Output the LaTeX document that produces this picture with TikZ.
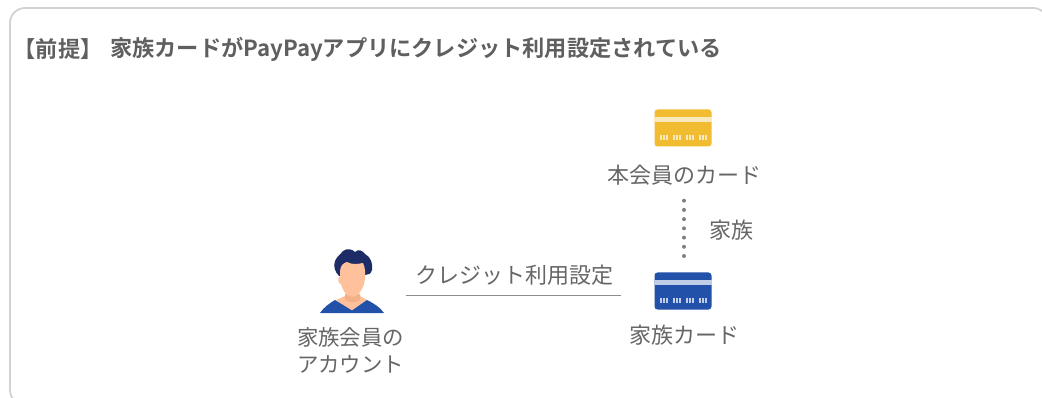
\documentclass[tikz,border=0pt]{standalone}
\usepackage{fontspec}
\setmainfont{Noto Sans CJK JP}
\newfontfamily\jpbold{Noto Sans CJK JP Bold}
\definecolor{txt}{HTML}{666666}
\definecolor{titletxt}{HTML}{5F5F5F}
\definecolor{frame}{HTML}{D2D2D2}
\definecolor{rulegray}{HTML}{8C8C8C}
\definecolor{dotgray}{HTML}{808080}
\definecolor{cardyellow}{HTML}{F1BC30}
\definecolor{stripeyellow}{HTML}{FBE9BE}
\definecolor{cardblue}{HTML}{2151A8}
\definecolor{stripeblue}{HTML}{BFCDE6}
\definecolor{hair}{HTML}{1D2C66}
\definecolor{skin}{HTML}{FFC19C}
\definecolor{neck}{HTML}{F5B088}
\definecolor{shirt}{HTML}{2151A8}
\tikzset{
  label text/.style={font=\fontsize{22}{27}\selectfont, text=txt, inner sep=0pt, align=center},
  title text/.style={anchor=west, inner sep=0pt, text=titletxt, font=\jpbold\fontsize{22.2}{26}\selectfont},
  link/.style={draw=rulegray, line width=1.6pt},
  dotlink/.style={draw=dotgray, line width=4pt, line cap=round, dash pattern=on 0pt off 9.22pt},
  pics/credit card/.style 2 args={code={
    \fill[#1, rounded corners=3pt] (-28.5,-18.5) rectangle (28.5,18.5);
    \fill[#2] (-28.5,-11) rectangle (28.5,-5.5);
    \foreach \cx in {-23,-10,3,16} {
      \foreach \dx in {0,3,6} \fill[#2] (\cx+\dx,7) rectangle ++(2,5);
    }
  }}
}
\begin{document}
\begin{tikzpicture}[x=1pt,y=-1pt]
\useasboundingbox (0,0) rectangle (1042,398);
\fill[white] (0,0) rectangle (1042,398);
\begin{scope}
\clip (0,0) rectangle (1042,398);
\draw[frame, line width=1.8pt, rounded corners=15pt] (10,8) rectangle (1048,405);
\end{scope}
\node[title text] (tag) at (13.5,49.5) {【前提】};
\node[title text] (title) at (110,49.5) {家族カードがPayPayアプリにクレジット利用設定されている};

% yellow card
\pic at (683,128) {credit card={cardyellow}{stripeyellow}};
\node[label text] (ylabel) at (684,175) {本会員のカード};

% blue card
\pic at (683,291) {credit card={cardblue}{stripeblue}};
\node[label text] (blabel) at (684,335.5) {家族カード};

% family relation
\coordinate (dotTop) at (684,200.7);
\coordinate (dotBot) at (684,256.5);
\draw[dotlink] (dotTop) -- (dotBot);
\node[label text] (fam) at (731.5,230) {家族};

% credit link
\coordinate (lineL) at (406,295.5);
\coordinate (lineR) at (621,295.5);
\draw[link] (lineL) -- (lineR);
\node[label text] (linkLabel) at (514,275.5) {クレジット利用設定};

% person
\fill[skin] (336,300) -- (345,296) -- (360,296) -- (367,300) -- (352,312) -- cycle;
\fill[neck] (345,294) -- (360,294) -- (360,300) .. controls (356,303) and (349,303) .. (345,300) -- cycle;
\fill[shirt] (320,313) .. controls (324,307) and (330,303) .. (335,300)
  -- (352,310.5) -- (367,300) .. controls (373,303) and (380,307) .. (384,313) -- cycle;
\fill[hair] (339,276) .. controls (335,272) and (333,266) .. (335,261)
  .. controls (337,256) and (341,254) .. (343,251)
  .. controls (347,248) and (352,249) .. (355,252)
  .. controls (358,249) and (362,250) .. (365,254)
  .. controls (371,257) and (373,264) .. (372,270)
  .. controls (371,274) and (368,275) .. (365,275) -- cycle;
\fill[skin] (340,272) .. controls (340,266) and (343,263) .. (347,262)
  .. controls (352,265) and (358,264) .. (363,263)
  .. controls (365,267) and (365.5,272) .. (365,278)
  .. controls (364.5,286) and (360,296) .. (352,297)
  .. controls (345,296) and (342,288) .. (341,284)
  .. controls (338,284) and (337,278) .. (340,276) -- cycle;
\node[label text, font=\fontsize{21.4}{27}\selectfont] (plabel) at (350.5,350) {家族会員の\\アカウント};
\end{tikzpicture}
\end{document}
